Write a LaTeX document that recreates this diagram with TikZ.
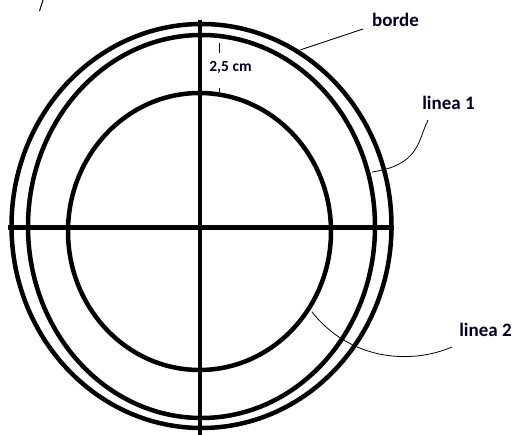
\documentclass[tikz,border=0pt]{standalone}
\usepackage{fontspec}
\setmainfont{Carlito}
\begin{document}
\begin{tikzpicture}[x=1pt,y=-1pt,
  ring/.style={line width=4.5pt},
  axis/.style={line width=4.5pt},
  lead/.style={line width=0.8pt},
  lbl/.style={font=\bfseries\fontsize{19}{21}\selectfont, text=black!85!blue, inner sep=0pt},
  dim/.style={font=\bfseries\fontsize{15.5}{17}\selectfont, text=black!85!blue, inner sep=0pt}]
\useasboundingbox (0,0) rectangle (515,435);
% rings
\draw[ring] (201.5,226) ellipse [x radius=190, y radius=202];
\draw[ring] (201.5,226.5) ellipse [x radius=173.5, y radius=191.5];
\draw[ring] (199.5,231.5) ellipse [x radius=131.5, y radius=138.5];
% axes
\coordinate (vt) at (200,20);
\coordinate (vb) at (200,436);
\coordinate (hl) at (8,227.5);
\coordinate (hr) at (394,227.5);
\draw[axis] (vt) -- (vb);
\draw[axis] (hl) -- (hr);
% small mark at top left
\coordinate (m1) at (39.5,11);
\coordinate (m2) at (43,0);
\draw[line width=1pt] (m1) -- (m2);
% dimension
\coordinate (d1) at (219,43);
\coordinate (d2) at (219,53);
\coordinate (d3) at (219,88);
\coordinate (d4) at (219,92);
\draw[line width=1pt] (d1) -- (d2);
\draw[line width=1pt] (d3) -- (d4);
\node[dim] (dl) at (230.5,67) {2,5 cm};
% labels
\node[lbl] (borde) at (395.5,20) {borde};
\node[lbl] (l1) at (448.5,103) {linea 1};
\node[lbl] (l2) at (485.5,330) {linea 2};
% leaders
\coordinate (b0) at (363,29);
\coordinate (b1) at (300,50);
\draw[lead] (b0) -- (b1);
\coordinate (a0) at (428,120);
\coordinate (a1) at (372,172);
\draw[lead] (a0) .. controls (418,140) and (420,165) .. (a1);
\coordinate (c0) at (452,347);
\coordinate (c1) at (312,312);
\draw[lead] (c0) .. controls (410,365) and (350,360) .. (c1);
\end{tikzpicture}
\end{document}
